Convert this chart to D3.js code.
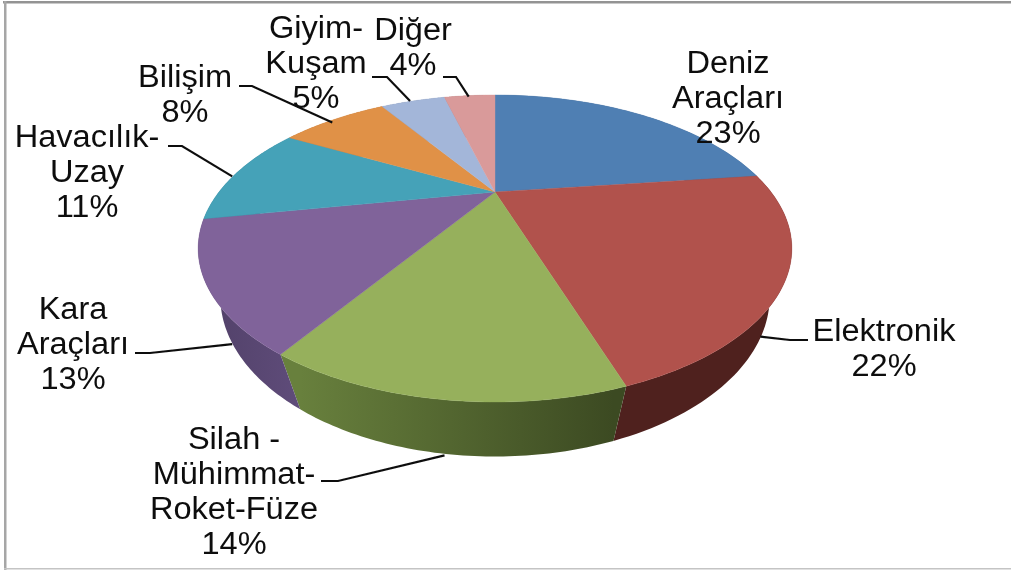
<!DOCTYPE html>
<html><head><meta charset="utf-8">
<script src="https://cdn.jsdelivr.net/npm/d3@7"></script>
<style>html,body{margin:0;padding:0;background:#fff}svg{display:block}</style></head>
<body><div id="c"></div>
<script>
const categories = ["Deniz Araçları","Elektronik","Silah - Mühimmat-Roket-Füze","Kara Araçları","Havacılık-Uzay","Bilişim","Giyim-Kuşam","Diğer"];
const values = [23,22,14,13,11,8,5,4];
const labelLines = [["Deniz","Araçları"],["Elektronik"],["Silah -","Mühimmat-","Roket-Füze"],["Kara","Araçları"],["Havacılık-","Uzay"],["Bilişim"],["Giyim-","Kuşam"],["Diğer"]];
const topColors = ["#4f7fb3","#b1524c","#96b05c","#80639a","#45a2b8","#e09147","#a3b6d9","#d99a9a"];
const sideLeft  = ["#3a5f86","#4f211e","#68803d","#54436c","#33798a","#a86c35","#7a88a3","#a37373"];
const sideRight = ["#3a5f86","#4f211e","#3c4a22","#5f4c7a","#33798a","#a86c35","#7a88a3","#a37373"];

// layout
const W=1011,H=570, cx=495, cy=192, A=276, B=132.7, k=0.368, drop=53, shrink=0.07, size=31, lh=35, xs=1.05;
const labelPos = [[728,73],[884,341],[234,449],[73,319],[87,147],[185,87],[316,38],[413,40]];
const leaderElbows = [null,
  [[808,340],[790,340]],
  [[321,481],[338,481]],
  [[135,353],[150,353]],
  [[168,146],[182,146]],
  [[239,86],[252,86]],
  [[372,77],[387,77]],
  [[443,77],[456,77]]];
const leaderNudges = [null,[-25,56],[4,56],[25,58],[-5,4],[-2,3],[-3,0],[-1,1]];

const svg=d3.select("#c").append("svg").attr("width",W).attr("height",H);
svg.append("rect").attr("width",W).attr("height",H).attr("fill","#fff");
const defs=svg.append("defs");
defs.append("filter").attr("id","soft").append("feGaussianBlur").attr("stdDeviation",0.45);
const border=svg.append("g");
border.append("rect").attr("x",3).attr("y",1).attr("width",W-3).attr("height",2.5).attr("fill","#939393");
border.append("rect").attr("x",4).attr("y",1).attr("width",2.5).attr("height",H-1).attr("fill","#a6a6a6");
border.append("rect").attr("x",4).attr("y",H-2).attr("width",W-4).attr("height",1.5).attr("fill","#c4c4c4");

// perspective projection of the tilted disc; low = the lower rim
const proj=(t,low)=>{
  const X=Math.sin(t),Y=-Math.cos(t);
  const den=1-k*Y+(low?shrink:0);
  return [cx+A*X/den, cy+(B*Y+(low?drop:0))/den];
};
const arcs=d3.pie().sort(null).startAngle(0).endAngle(2*Math.PI)(values);
const samples=a=>d3.range(0,61).map(i=>a.startAngle+(a.endAngle-a.startAngle)*i/60);
const line=d3.line();

const pie=svg.append("g");
arcs.forEach((a,i)=>{
  const pa=proj(a.startAngle,true),pb=proj(a.endAngle,true);
  const lo=pa[0]<pb[0]?pa:pb, hi=pa[0]<pb[0]?pb:pa;
  const g=defs.append("linearGradient").attr("id","side"+i).attr("gradientUnits","userSpaceOnUse")
    .attr("x1",lo[0]).attr("x2",hi[0]).attr("y1",0).attr("y2",0);
  g.append("stop").attr("offset",0).attr("stop-color",sideLeft[i]);
  g.append("stop").attr("offset",1).attr("stop-color",sideRight[i]);
  const ts=samples(a);
  const pts=ts.map(t=>proj(t,false)).concat(ts.slice().reverse().map(t=>proj(t,true)));
  pie.append("path").attr("d",line(pts)+"Z").attr("fill","url(#side"+i+")");
});
arcs.forEach((a,i)=>{
  const pts=[[cx,cy]].concat(samples(a).map(t=>proj(t,false)));
  pie.append("path").attr("d",line(pts)+"Z").attr("fill",topColors[i]).attr("stroke",topColors[i]).attr("stroke-width",0.4);
});

const lead=svg.append("g").attr("filter","url(#soft)");
arcs.forEach((a,i)=>{
  if(!leaderElbows[i])return;
  const end=proj((a.startAngle+a.endAngle)/2,false);
  end[0]+=leaderNudges[i][0]; end[1]+=leaderNudges[i][1];
  lead.append("path").attr("d",line(leaderElbows[i].concat([end]))).attr("fill","none").attr("stroke","#111").attr("stroke-width",2.2);
});

const txt=svg.append("g").attr("filter","url(#soft)").attr("font-family","'Liberation Sans',Arial,sans-serif")
  .attr("font-size",size).attr("fill","#0c0c0c").attr("text-anchor","middle");
categories.forEach((c,i)=>{
  const g=txt.append("g").attr("transform",`translate(${labelPos[i][0]},${labelPos[i][1]}) scale(${xs},1)`);
  labelLines[i].concat([values[i]+"%"]).forEach((s,j)=>g.append("text").attr("y",j*lh).text(s));
});
</script></body></html>
